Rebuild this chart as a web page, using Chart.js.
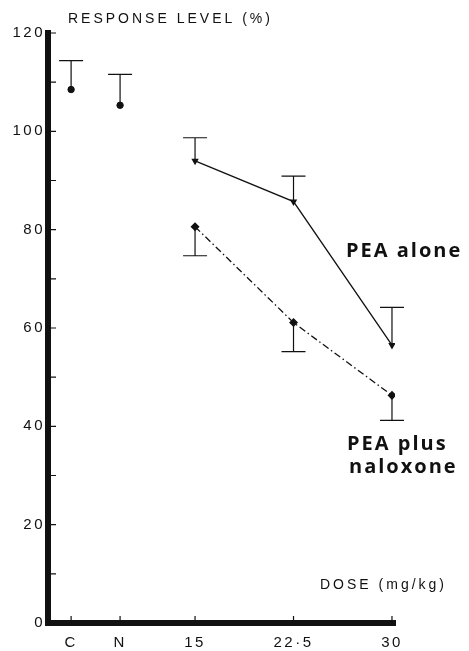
<!DOCTYPE html>
<html>
<head>
<meta charset="utf-8">
<script src="https://cdn.jsdelivr.net/npm/chart.js@4.4.1/dist/chart.umd.min.js"></script>
<style>
  html, body { margin: 0; padding: 0; background: #fff; }
  #wrap { width: 469px; height: 651px; }
</style>
</head>
<body>
<div id="wrap"><canvas id="chart-response"></canvas></div>
<script>
// categories along the dose axis and where they sit on it
var categories = ['C', 'N', '15', '22·5', '30'];
var categoryAt = [5.56, 9.29, 15, 22.5, 30];

// controls (C, N)
var controlMean = [108.5, 105.3];
var controlUpper = [114.4, 111.6];

// PEA alone (15, 22.5, 30)
var aloneMean = [94.0, 85.7, 56.5];
var aloneUpper = [98.7, 90.9, 64.2];

// PEA plus naloxone (15, 22.5, 30)
var naloxMean = [80.6, 61.1, 46.3];
var naloxLower = [74.7, 55.2, 41.2];

var yTicks = [0, 10, 20, 30, 40, 50, 60, 70, 80, 90, 100, 110, 120];

var INK = '#111';
var tickFont = { family: 'Liberation Sans', size: 15 };

function pts(xs, ys) {
    return ys.map(function (y, i) { return { x: xs[i], y: y }; });
}

var figure = {
    id: 'figure',
    beforeDraw: function (chart) {
        chart.ctx.letterSpacing = '2.5px';
    },
    afterDatasetsDraw: function (chart) {
        var ctx = chart.ctx, xs = chart.scales.x, ys = chart.scales.y;
        ctx.save();
        ctx.strokeStyle = INK;
        ctx.lineWidth = 1.2;
        function bar(xv, from, to) {
            var x = xs.getPixelForValue(xv);
            var y1 = ys.getPixelForValue(from), y2 = ys.getPixelForValue(to);
            ctx.beginPath();
            ctx.moveTo(x, y1); ctx.lineTo(x, y2);
            ctx.moveTo(x - 12, y2); ctx.lineTo(x + 12, y2);
            ctx.stroke();
        }
        controlMean.forEach(function (v, i) { bar(categoryAt[i], v, controlUpper[i]); });
        aloneMean.forEach(function (v, i) { bar(categoryAt[i + 2], v, aloneUpper[i]); });
        naloxMean.forEach(function (v, i) { bar(categoryAt[i + 2], v, naloxLower[i]); });
        ctx.restore();
    },
    afterDraw: function (chart) {
        var ctx = chart.ctx, xs = chart.scales.x, ys = chart.scales.y, a = chart.chartArea;
        ctx.save();
        ctx.strokeStyle = INK;
        ctx.lineWidth = 1.2;
        // inward tick marks
        ctx.beginPath();
        yTicks.slice(1).forEach(function (v) {
            var y = ys.getPixelForValue(v);
            ctx.moveTo(a.left, y); ctx.lineTo(a.left + 8, y);
        });
        categoryAt.forEach(function (v) {
            var x = xs.getPixelForValue(v);
            ctx.moveTo(x, a.bottom); ctx.lineTo(x, a.bottom - 7);
        });
        ctx.stroke();

        ctx.fillStyle = INK;
        ctx.textBaseline = 'alphabetic';
        ctx.textAlign = 'left';
        ctx.letterSpacing = '3px';
        ctx.font = '14px "Liberation Sans"';
        ctx.fillText('RESPONSE LEVEL (%)', 68, 23);
        ctx.fillText('DOSE (mg/kg)', 320, 589);

        ctx.letterSpacing = '2px';
        ctx.font = 'bold 20px "Open Sans"';
        ctx.fillText('PEA alone', 346, 257);
        ctx.fillText('PEA plus', 347, 450);
        ctx.fillText('naloxone', 349, 473);
        ctx.restore();
    }
};

new Chart(document.getElementById('chart-response'), {
    type: 'line',
    data: {
        datasets: [{
            label: 'Control',
            data: pts(categoryAt.slice(0, 2), controlMean),
            showLine: false,
            pointStyle: 'circle',
            pointRadius: 3.2,
            pointBackgroundColor: INK,
            pointBorderColor: INK,
            borderColor: INK
        }, {
            label: 'PEA alone',
            data: pts(categoryAt.slice(2), aloneMean),
            borderColor: INK,
            borderWidth: 1.3,
            pointStyle: 'triangle',
            pointRotation: 180,
            pointRadius: 3,
            pointBackgroundColor: INK,
            pointBorderColor: INK
        }, {
            label: 'PEA plus naloxone',
            data: pts(categoryAt.slice(2), naloxMean),
            borderColor: INK,
            borderWidth: 1.3,
            borderDash: [7, 3, 1.5, 3],
            pointStyle: 'rectRot',
            pointRadius: 3.6,
            pointBackgroundColor: INK,
            pointBorderColor: INK
        }]
    },
    options: {
        responsive: true,
        maintainAspectRatio: false,
        animation: false,
        layout: { padding: { top: 33, right: 74, left: 0, bottom: 0 } },
        plugins: { legend: { display: false }, tooltip: { enabled: false } },
        scales: {
            x: {
                type: 'linear',
                min: 3.8,
                max: 30.23,
                grid: { display: false },
                border: { display: true, color: INK, width: 6 },
                afterBuildTicks: function (scale) {
                    scale.ticks = categoryAt.map(function (v) { return { value: v }; });
                },
                afterFit: function (scale) { scale.height = 28; },
                ticks: {
                    autoSkip: false,
                    maxRotation: 0,
                    padding: 3,
                    color: INK,
                    font: tickFont,
                    callback: function (v) {
                        var i = categoryAt.indexOf(v);
                        return i >= 0 ? categories[i] : '';
                    }
                }
            },
            y: {
                min: 0,
                max: 120,
                grid: { display: false },
                border: { display: true, color: INK, width: 6 },
                afterBuildTicks: function (scale) {
                    scale.ticks = yTicks.map(function (v) { return { value: v }; });
                },
                afterFit: function (scale) { scale.width = 48; },
                ticks: {
                    padding: -5,
                    color: INK,
                    font: tickFont,
                    callback: function (v) { return v % 20 === 0 ? v : ''; }
                }
            }
        }
    },
    plugins: [figure]
});
</script>
</body>
</html>
